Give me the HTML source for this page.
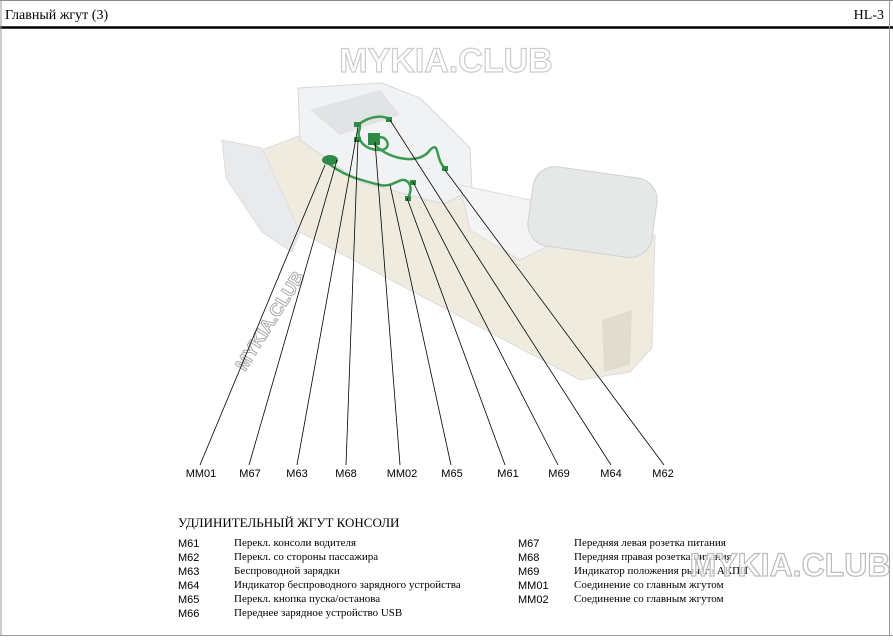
<!DOCTYPE html>
<html><head><meta charset="utf-8"><style>
body{margin:0;background:#fff;width:893px;height:638px;overflow:hidden;font-family:"Liberation Serif",serif;}
</style></head><body>
<svg width="893" height="638" viewBox="0 0 893 638" xmlns="http://www.w3.org/2000/svg">
<rect x="0" y="0" width="893" height="638" fill="#fff"/>
<line x1="0" y1="0.5" x2="893" y2="0.5" stroke="#888" stroke-width="1"/>
<line x1="0" y1="27.5" x2="893" y2="27.5" stroke="#000" stroke-width="2.5"/>
<line x1="1" y1="0" x2="1" y2="636" stroke="#999" stroke-width="1"/>
<line x1="889.5" y1="0" x2="889.5" y2="636" stroke="#999" stroke-width="1"/>
<line x1="0" y1="635.5" x2="893" y2="635.5" stroke="#999" stroke-width="1"/>
<text x="5" y="19" font-family="Liberation Serif, serif" font-size="14">Главный жгут (3)</text>
<text x="884" y="19" text-anchor="end" font-family="Liberation Serif, serif" font-size="14">HL-3</text>
<text x="446" y="72" text-anchor="middle" font-family="Liberation Sans, sans-serif" font-weight="bold" font-size="34" fill="#fff" stroke="#ccc" stroke-width="1.2">MYKIA.CLUB</text>

<!-- console -->
<polygon points="262,150 320,128 460,185 530,212 655,235 652,348 630,372 580,380 300,232" fill="#efebdf" stroke="#ddd"/>
<polygon points="222,140 262,148 300,232 292,252 262,232 226,178" fill="#e9eaec" stroke="#ddd"/>
<polygon points="298,88 382,83 420,98 470,148 472,190 444,204 360,182 300,140" fill="#f1f2f3" stroke="#d8d8d8"/>
<polygon points="310,110 380,90 400,115 340,135" fill="#e2e3e5"/>
<polygon points="460,185 530,200 560,240 520,260 470,230" fill="#f4f4f4" stroke="#ddd"/>
<rect x="530" y="172" width="125" height="80" rx="22" fill="#e6e8e8" stroke="#cfd2d2" transform="rotate(8 592 212)"/>
<polygon points="602,320 632,310 630,365 604,372" fill="#e0dccf"/>
<!-- harness -->
<g fill="none" stroke="#3a9a4f" stroke-width="2.5" stroke-linecap="round">
<path d="M325,160 C340,175 360,180 380,185 C395,188 400,175 408,182 C415,190 405,200 410,198"/>
<path d="M358,125 C370,115 385,115 390,120 M360,128 C355,140 365,150 380,150 C395,150 385,130 375,140"/>
<path d="M375,145 C390,160 420,165 430,150 C440,140 435,160 445,168"/>
</g>
<g fill="#2f8a45">
<ellipse cx="330" cy="160" rx="8" ry="5"/><rect x="368" y="133" width="12" height="12"/>
<rect x="354" y="122" width="7" height="5"/><rect x="354" y="137" width="7" height="5"/>
<rect x="386" y="117" width="6" height="5"/><rect x="410" y="180" width="6" height="5"/>
<rect x="442" y="166" width="6" height="5"/><rect x="405" y="196" width="6" height="5"/>
</g>
<text transform="translate(245,372) rotate(-58)" font-family="Liberation Sans, sans-serif" font-weight="bold" font-size="18" fill="#fff" stroke="#aaa" stroke-width="1">MYKIA.CLUB</text>

<!-- leader lines -->
<g stroke="#000" stroke-width="0.8">
<line x1="325" y1="165" x2="200" y2="465"/>
<line x1="337" y1="160" x2="249" y2="465"/>
<line x1="358" y1="127" x2="297" y2="465"/>
<line x1="358" y1="140" x2="346" y2="465"/>
<line x1="375" y1="142" x2="400" y2="465"/>
<line x1="390" y1="185" x2="451" y2="465"/>
<line x1="407" y1="198" x2="505" y2="465"/>
<line x1="413" y1="182" x2="558" y2="465"/>
<line x1="390" y1="120" x2="611" y2="465"/>
<line x1="445" y1="170" x2="664" y2="465"/>
</g>
<g font-family="Liberation Sans, sans-serif" font-size="11" text-anchor="middle">
<text x="201" y="477">MM01</text><text x="250" y="477">M67</text><text x="297" y="477">M63</text>
<text x="346" y="477">M68</text><text x="402" y="477">MM02</text><text x="452" y="477">M65</text>
<text x="508" y="477">M61</text><text x="559" y="477">M69</text><text x="611" y="477">M64</text>
<text x="663" y="477">M62</text>
</g>

<text x="178" y="527" font-family="Liberation Serif, serif" font-size="13">УДЛИНИТЕЛЬНЫЙ ЖГУТ КОНСОЛИ</text>
<g font-family="Liberation Sans, sans-serif" font-size="11">
<text x="178" y="547">M61</text><text x="178" y="561">M62</text><text x="178" y="575">M63</text>
<text x="178" y="589">M64</text><text x="178" y="603">M65</text><text x="178" y="617">M66</text>
<text x="518" y="547">M67</text><text x="518" y="561">M68</text><text x="518" y="575">M69</text>
<text x="518" y="589">MM01</text><text x="518" y="603">MM02</text>
</g>
<g font-family="Liberation Serif, serif" font-size="11">
<text x="234" y="546">Перекл. консоли  водителя</text>
<text x="234" y="560">Перекл. со стороны пассажира</text>
<text x="234" y="574">Беспроводной зарядки</text>
<text x="234" y="588">Индикатор беспроводного зарядного устройства</text>
<text x="234" y="602">Перекл. кнопка пуска/останова</text>
<text x="234" y="616">Переднее зарядное устройство USB</text>
<text x="574" y="546">Передняя левая розетка питания</text>
<text x="574" y="560">Передняя правая розетка питания</text>
<text x="574" y="574">Индикатор положения рычага АКПП</text>
<text x="574" y="588">Соединение со главным жгутом</text>
<text x="574" y="602">Соединение со главным жгутом</text>
</g>
<text x="790" y="576" text-anchor="middle" font-family="Liberation Sans, sans-serif" font-weight="bold" font-size="32" fill="#fff" fill-opacity="0.7" stroke="#bbb" stroke-width="1.2">MYKIA.CLUB</text>
</svg>
</body></html>
